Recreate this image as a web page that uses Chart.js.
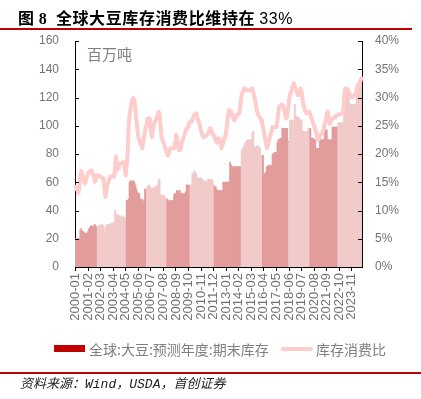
<!DOCTYPE html>
<html><head><meta charset="utf-8">
<script src="https://cdn.jsdelivr.net/npm/chart.js@4"></script>
<style>
html,body{margin:0;padding:0;background:#fff}
body{width:421px;height:399px;position:relative;overflow:hidden;font-family:"Noto Sans CJK SC","Noto Sans",sans-serif}
#c{position:absolute;left:0;top:0}
.abs{position:absolute;white-space:nowrap}
.title{left:18px;top:6px;font-size:16px;line-height:22px;font-weight:bold;color:#000;letter-spacing:0.6px}
.title .n{font-family:"Liberation Serif",serif;font-weight:bold}
.title .p{font-family:"Liberation Sans",sans-serif;font-weight:normal}
.rule{left:0;width:412px;height:2px;background:#C00000}
.unit{left:87px;top:44px;font-size:15px;line-height:19px;color:#7f7f7f}
.lg{font-size:14px;line-height:18px;color:#7f7f7f;top:340px}
.src{left:20px;top:374px;font-size:13px;line-height:18px;color:#222;font-style:italic}
.src .m{font-family:"Liberation Mono",monospace}
</style></head>
<body>
<canvas id="c" width="421" height="399"></canvas>
<div class="abs title">图 <span class="n">8</span>&nbsp; 全球大豆库存消费比维持在 <span class="p">33%</span></div>
<div class="abs rule" style="top:28px"></div>
<div class="abs unit">百万吨</div>
<div class="abs" style="left:54px;top:345px;width:31px;height:7px;background:#C00000"></div>
<div class="abs lg" style="left:89px">全球:大豆:预测年度:期末库存</div>
<div class="abs" style="left:281px;top:347px;width:32px;height:4px;background:#FFCCCC;border-radius:2px"></div>
<div class="abs lg" style="left:316px">库存消费比</div>
<div class="abs rule" style="top:372px;width:421px"></div>
<div class="abs src">资料来源：<span class="m">Wind</span>，<span class="m">USDA</span>，首创证券</div>
<script>
// ---- data ----
const startYear = 2000;
const monthCount = 297; // 2000-01 .. 2024-09
const months = [];
for (let i = 0; i < monthCount; i++) {
  const y = startYear + Math.floor(i / 12), m = i % 12 + 1;
  months.push(y + '-' + (m < 10 ? '0' + m : m));
}
const tickEvery = 13;
const leftTicks = [0, 20, 40, 60, 80, 100, 120, 140, 160];
const rightTicks = [0, 5, 10, 15, 20, 25, 30, 35, 40];

// 全球:大豆:预测年度:期末库存 (百万吨)
const stocks = [
  20,20,20,20,20,26,27,25,25,24,24,23,
  24,25,27,28,29,29,28,29,30,29,28,29,
  29,29,30,29,30,29,24,27,29,30,30,30,
  30,31,31,31,32,40,37,36,37,36,36,35,
  36,36,35,35,33,47,47,48,60,61,61,60,
  61,60,58,55,53,52,52,48,47,48,46,47,
  55,54,56,57,58,57,56,55,56,56,56,57,
  57,58,62,62,51,51,50,51,50,49,48,48,
  47,47,46,47,47,47,51,52,51,54,54,53,
  54,52,52,52,51,52,53,58,58,57,58,57,
  58,66,66,68,67,66,63,63,62,63,63,62,
  60,61,61,60,60,62,62,62,62,62,61,58,
  57,57,55,54,54,54,54,54,54,60,60,60,
  60,60,60,60,74,72,71,71,70,71,71,71,
  71,71,71,71,83,84,85,86,88,89,90,90,
  90,90,90,95,96,85,85,85,86,85,85,84,
  79,79,79,66,66,67,71,71,72,72,72,71,
  80,80,81,81,81,88,90,90,91,91,98,98,
  98,98,98,98,89,88,104,104,104,104,null,115,
  107,106,106,106,104,104,104,96,96,96,95,96,
  96,98,98,98,91,91,91,90,90,84,84,84,
  84,90,90,90,90,90,97,97,97,90,90,90,
  90,90,99,99,99,99,99,99,102,102,102,102,
  102,102,123,123,123,123,123,123,115,115,115,115,
  115,115,115,127,127,127,132,132,133
];
// 库存消费比 (%)
const ratio = [
  14.2,14,13.5,13,14.5,16,17,16.5,15.5,15,14.8,15.5,
  16,16.6,16.8,17,17.1,17,16.5,16,15.1,15.5,16.2,16.3,
  16.2,16,16,15.8,15.7,15.7,14,12.4,13.5,14.6,15,15.5,
  16,16,16,16,16,18,19.5,17.1,17.5,18,18.3,18.3,
  18.4,18.5,18.6,17.5,16.2,18,20.1,24.8,27,28,29.3,29.7,
  29.9,29.5,28,26,24.5,23,22.5,21.9,21.5,21,22,23,
  24,25,26,26.3,26.3,26.3,24,23,24,25,25.7,26,
  26.5,27,27.5,27,25,23,22.5,22,21.6,21,20.5,19.8,
  19.8,20.5,21,21,21,21,21,22,23.4,23,21.5,20.7,
  20.7,21,22,22.5,23,23.5,24,24.5,24.5,25,25.7,25.7,
  25.7,26,26.5,27,27,27.2,26.5,26,25.5,24.8,24,23.5,
  23,23,23,23.2,23.4,23.5,24,24.5,24.5,24,23.5,23.4,
  23,22.5,22,22,22.8,22.5,22,21,21.5,22,23,23,
  24,25.5,27,27.8,27.5,27.5,26.9,26.5,26,26,26.5,26.9,
  27,27,27.5,29.3,30.5,31,31.3,31.6,31.5,31.3,31.3,31.3,
  31.3,31.3,31.5,31.6,31,30,29.5,28.4,27.5,27,26.6,26.5,
  26,25.5,24.8,24,23,22,21,21.5,22,23,23.5,24,
  24.8,24.8,24.8,24.8,24.8,26,27.5,28.4,28.5,28.7,28.7,28.5,
  28,27,26.3,26.5,28,29.5,30.7,31,31.5,32,32.5,32,
  31.5,31,30.4,30.5,31,31.6,31,29.5,28.7,28,27.5,27.2,
  27.2,27.3,27.5,27,26.5,26,25.5,25,24.5,23.9,23,22.5,
  22.5,23,23.6,23.6,24,24.5,25.4,26,27,27.5,26.5,25.3,
  25.5,26,26.3,26.3,26.5,26.5,26.8,26.9,27,27,27,27.2,
  27.2,27.2,30,31.6,31.6,31.6,31.6,31,30.5,30.1,30,30.2,
  30.4,30.4,30.5,31.5,32.2,32,32.5,33,33.4
];

// ---- style ----
const barDark = '#E39C9C', barLight = '#F1CACA';
const bandEdges = [23,53,74,95,119,144,172,194,221,243,272];
function barColor(i){
  let k = 0; while (k < bandEdges.length && i >= bandEdges[k]) k++;
  return k % 2 === 0 ? barDark : barLight;
}
const tickFont = {family:'"Liberation Sans", sans-serif', size:12};
const xFont = {family:'"Liberation Sans", sans-serif', size:13};

const innerTicks = {
  id:'innerTicks',
  afterDraw(chart){
    const {ctx, chartArea:a, scales} = chart;
    ctx.save(); ctx.strokeStyle='#000'; ctx.lineWidth=1;
    leftTicks.forEach(v=>{const y=Math.round(scales.y.getPixelForValue(v))+0.5;
      ctx.beginPath();ctx.moveTo(a.left,y);ctx.lineTo(a.left+4,y);ctx.stroke();});
    rightTicks.forEach(v=>{const y=Math.round(scales.y1.getPixelForValue(v))+0.5;
      ctx.beginPath();ctx.moveTo(a.right,y);ctx.lineTo(a.right-4,y);ctx.stroke();});
    ctx.restore();
  }
};

new Chart(document.getElementById('c'), {
  data:{
    labels: months,
    datasets:[
      {type:'bar', label:'全球:大豆:预测年度:期末库存', data:stocks, yAxisID:'y',
       backgroundColor: ctx => barColor(ctx.dataIndex), borderWidth:0, inflateAmount:0.45,
       barPercentage:1, categoryPercentage:1, order:2},
      {type:'line', label:'库存消费比', data:ratio, yAxisID:'y1',
       borderColor:'#FFCCCC', borderWidth:4, pointRadius:0, tension:0,
       borderJoinStyle:'round', borderCapStyle:'round', order:1}
    ]
  },
  options:{
    responsive:false, animation:false,
    layout:{padding:{top:41,left:0,right:0,bottom:0}},
    plugins:{legend:{display:false}, tooltip:{enabled:false}},
    scales:{
      x:{type:'category', offset:true,
         grid:{offset:false, drawOnChartArea:false, drawTicks:true, tickLength:4, color:'#000'},
         border:{display:true, color:'#000', width:1},
         ticks:{autoSkip:false, maxRotation:90, minRotation:90, padding:2, color:'#737373', font:xFont,
           callback:(v,i)=> i % tickEvery === 0 ? months[i] : null},
         afterFit(s){ s.height = 132; }},
      y:{position:'left', min:0, max:160,
         afterBuildTicks(s){ s.ticks = leftTicks.map(v=>({value:v})); },
         ticks:{padding:16, color:'#737373', font:tickFont},
         grid:{drawOnChartArea:false, drawTicks:false},
         border:{display:true, color:'#000', width:1},
         afterFit(s){ s.width = 75; }},
      y1:{position:'right', min:0, max:40,
         afterBuildTicks(s){ s.ticks = rightTicks.map(v=>({value:v})); },
         ticks:{padding:13, color:'#737373', font:tickFont, callback:v=>v+'%'},
         grid:{drawOnChartArea:false, drawTicks:false},
         border:{display:true, color:'#000', width:1},
         afterFit(s){ s.width = 59; }}
    }
  },
  plugins:[innerTicks]
});
</script>
</body></html>
